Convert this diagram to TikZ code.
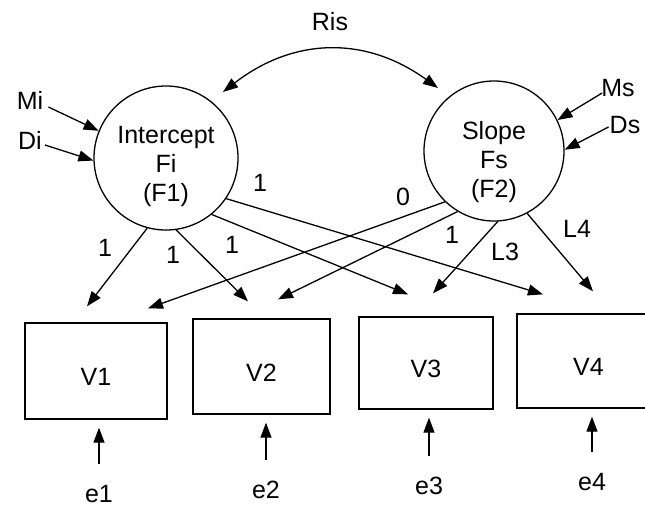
\documentclass[tikz,border=0pt]{standalone}
\usepackage{fontspec}
\setmainfont{Liberation Sans}
\usetikzlibrary{arrows.meta,calc}
\begin{document}
\begin{tikzpicture}[x=1pt,y=-1pt,
  every node/.style={font=\fontsize{25}{29}\selectfont},
  latent/.style={draw, circle, line width=1.3pt, inner sep=0pt},
  obs/.style={draw, rectangle, line width=1.3pt, inner sep=0pt, text height=29pt, text depth=0pt},
  arr/.style={line width=1.3pt, -{Triangle[length=15pt,width=11pt]}},
  darr/.style={line width=1.3pt, {Triangle[length=15pt,width=11pt]}-{Triangle[length=15pt,width=11pt]}},
  lbl/.style={inner sep=1pt}
]
\useasboundingbox (0,0) rectangle (645,507);
\clip (0,0) rectangle (645,507);

% latent factors
\node[latent, minimum size=144pt] (F1) at (166,158) {};
\node[lbl, align=center] (F1t) at (166,166) {Intercept\\Fi\\(F1)};
\node[latent, minimum size=140pt] (F2) at (494,151) {};
\node[lbl, align=center] (F2t) at (494,162) {Slope\\Fs\\(F2)};

% observed variables
\node[obs, minimum width=142pt, minimum height=96pt] (V1) at (96,371) {V1};
\node[obs, minimum width=137pt, minimum height=95pt] (V2) at (261.5,366.5) {V2};
\node[obs, minimum width=134pt, minimum height=92pt] (V3) at (426,363) {V3};
\node[obs, minimum width=143pt, minimum height=94pt] (V4) at (588.5,361) {V4};

% errors
\node[lbl] (e1) at (99,494) {e1};
\node[lbl] (e2) at (266,490) {e2};
\node[lbl] (e3) at (429,486) {e3};
\node[lbl] (e4) at (592,482) {e4};
\draw[arr] ($(e1.north)+(0,-20)$) -- ($(V1.south -| e1)+(0,8)$);
\draw[arr] ($(e2.north)+(0,-20)$) -- ($(V2.south -| e2)+(0,8)$);
\draw[arr] ($(e3.north)+(0,-20)$) -- ($(V3.south -| e3)+(0,8)$);
\draw[arr] ($(e4.north)+(0,-20)$) -- ($(V4.south -| e4)+(0,8)$);

% means and disturbances
\node[lbl] (Mi) at (30,100) {Mi};
\node[lbl] (Di) at (30,140) {Di};
\node[lbl] (Ms) at (618,88) {Ms};
\node[lbl] (Ds) at (625,125) {Ds};
\draw[arr] ($(Mi.east)+(4,7)$) -- (F1.158);
\draw[arr] ($(Di.east)+(2,5)$) -- (F1.182);
\draw[arr] ($(Ms.west)+(2,5)$) -- (F2.26);
\draw[arr] ($(Ds.west)+(0,2)$) -- (F2.1);

% covariance
\node[lbl] (Ris) at (330,22) {Ris};
\coordinate (risL) at (223,92);
\coordinate (risR) at (438,88);
\draw[darr] (risL) .. controls (294,37) and (366,36) .. (risR);

% loadings
\draw[arr] (F1.255.6) -- ($(V1.north)+(-9,-16)$);
\draw[arr] (F1.278.8) -- ($(V2.north)+(-13.5,-17)$);
\draw[arr] (F1.309.9) -- ($(V3.north)+(-18,-22)$);
\draw[arr] (F1.326.7) -- ($(V4.north)+(-45.5,-19)$);
\draw[arr] (F2.226.6) -- ($(V1.north)+(52,-14)$);
\draw[arr] (F2.239.9) -- ($(V2.north)+(16.5,-19)$);
\draw[arr] (F2.273.2) -- ($(V3.north)+(7,-23)$);
\draw[arr] (F2.298.7) -- ($(V4.north)+(4.5,-22)$);

% loading labels
\node[lbl] (l11) at (105,248) {1};
\node[lbl] (l12) at (173,255) {1};
\node[lbl] (l13) at (232,245) {1};
\node[lbl] (l14) at (260,183) {1};
\node[lbl] (l21) at (403,197) {0};
\node[lbl] (l22) at (452,235) {1};
\node[lbl] (l23) at (505,252) {L3};
\node[lbl] (l24) at (577,229) {L4};
\end{tikzpicture}
\end{document}
